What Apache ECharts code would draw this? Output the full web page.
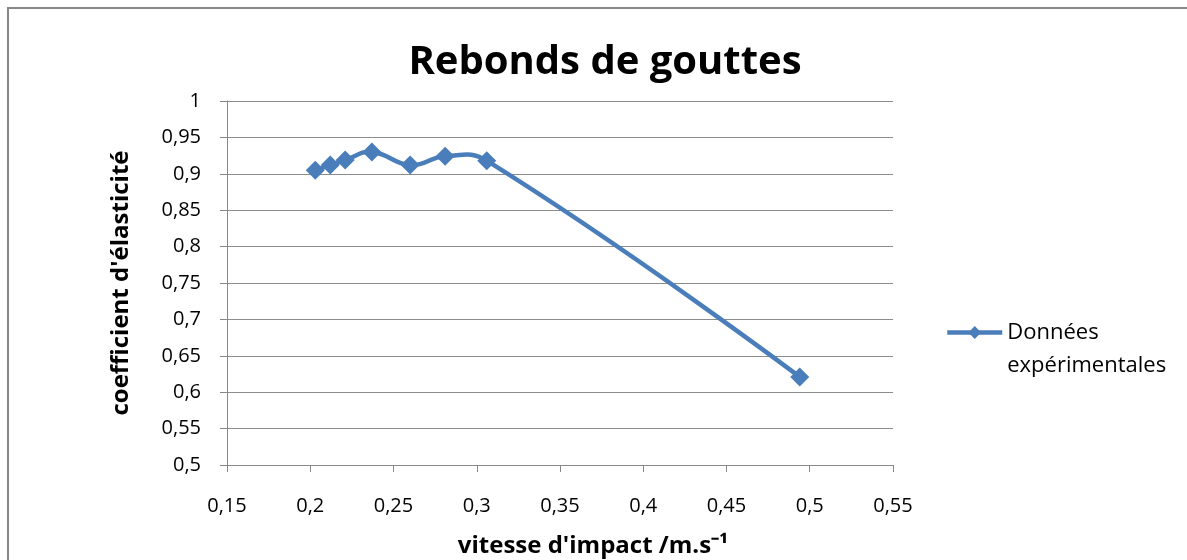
<!DOCTYPE html>
<html><head><meta charset="utf-8">
<script src="https://cdn.jsdelivr.net/npm/echarts@6/dist/echarts.min.js"></script>
<style>html,body{margin:0;padding:0;background:#fff}#c{width:1187px;height:560px}</style>
</head><body><div id="c"></div>
<script>
const vitesse = [0.203, 0.212, 0.221, 0.237, 0.260, 0.281, 0.306, 0.494];
const coefficient = [0.905, 0.912, 0.919, 0.930, 0.912, 0.924, 0.918, 0.621];
const xTicks = [0.15, 0.2, 0.25, 0.3, 0.35, 0.4, 0.45, 0.5, 0.55];
const yTicks = [0.5, 0.55, 0.6, 0.65, 0.7, 0.75, 0.8, 0.85, 0.9, 0.95, 1];
const seriesName = 'Données expérimentales';
const legendLabel = '\nDonnées\nexpérimentales';
const titleText = 'Rebonds de gouttes';
const xName = "vitesse d'impact /m.s⁻¹";
const yName = "coefficient d'élasticité";

const font = 'Open Sans';
const blue = '#4A7EBB';
const points = vitesse.map((x, i) => [x, coefficient[i]]);
const fmt = v => String(+v.toFixed(2)).replace('.', ',');

function smoothPath(pts, s) {
  const n = pts.length, cpOut = [], cpIn = [];
  for (let i = 0; i < n; i++) {
    const p = pts[i];
    if (i === 0 || i === n - 1) { cpOut[i] = p; cpIn[i] = p; continue; }
    const prev = pts[i - 1], next = pts[i + 1];
    const vx = next[0] - prev[0], vy = next[1] - prev[1];
    const d0 = Math.hypot(p[0] - prev[0], p[1] - prev[1]);
    const d1 = Math.hypot(next[0] - p[0], next[1] - p[1]);
    const r = d1 / (d0 + d1);
    cpIn[i] = [p[0] - vx * s * (1 - r), p[1] - vy * s * (1 - r)];
    cpOut[i] = [p[0] + vx * s * r, p[1] + vy * s * r];
  }
  let d = 'M' + pts[0][0] + ',' + pts[0][1];
  for (let i = 0; i < n - 1; i++) {
    d += ' C' + cpOut[i][0] + ',' + cpOut[i][1] + ' ' + cpIn[i + 1][0] + ',' + cpIn[i + 1][1] + ' ' + pts[i + 1][0] + ',' + pts[i + 1][1];
  }
  return d;
}

const chart = echarts.init(document.getElementById('c'));
chart.setOption({
  animation: false,
  backgroundColor: '#fff',
  graphic: [{type:'rect', shape:{x:8,y:8,width:1200,height:600}, style:{fill:'none', stroke:'#878787', lineWidth:2}, silent:true}],
  title: {text: titleText, left: 600, top: 38, textAlign: 'center',
    textStyle:{fontFamily: font, fontWeight:'bold', fontSize: 40, color:'#000'}},
  grid: {left: 227, right: 294, top: 101, bottom: 95, outerBoundsMode: 'none', containLabel: false},
  legend: {orient:'vertical', left: 945, top: 283, padding: 0, itemWidth: 55, itemHeight: 16,
    data: [seriesName],
    formatter: () => legendLabel,
    lineStyle: {color: blue, width: 4.5, opacity: 1},
    textStyle:{fontFamily: font, fontSize: 22, color:'#000', lineHeight: 33}},
  xAxis: {type:'value', min: xTicks[0], max: xTicks[xTicks.length-1], interval: 0.05,
    name: xName, nameLocation:'middle', nameGap: 69,
    nameTextStyle:{fontFamily: font, fontWeight:'bold', fontSize: 24, color:'#000', padding: [0, 0, 0, 66]},
    axisLine:{lineStyle:{color:'#888', width:1}},
    axisTick:{show:true, length:7, lineStyle:{color:'#888'}},
    axisLabel:{margin: 31, fontFamily: font, fontSize: 20, color:'#000', formatter: fmt},
    splitLine:{show:false}},
  yAxis: {type:'value', min: yTicks[0], max: yTicks[yTicks.length-1], interval: 0.05,
    name: yName, nameLocation:'middle', nameGap: 94, nameRotate: 90,
    nameTextStyle:{fontFamily: font, fontWeight:'bold', fontSize: 24, color:'#000'},
    axisLine:{show:true, lineStyle:{color:'#888', width:1}},
    axisTick:{show:true, inside:false, length:7, lineStyle:{color:'#888'}},
    axisLabel:{margin: 26, fontFamily: font, fontSize: 20, color:'#000', formatter: fmt},
    splitLine:{show:true, lineStyle:{color:'#8c8c8c', width:1}}},
  series: [{
    name: seriesName, type:'line', z: 3,
    data: points,
    symbol:'diamond', symbolSize: 19, showAllSymbol: true,
    itemStyle:{color: blue},
    lineStyle:{color: blue, width: 0, opacity: 0}
  }, {
    name: seriesName, type:'custom', z: 2, silent: true,
    data: points,
    encode: {x: 0, y: 1},
    renderItem: (params, api) => {
      if (params.dataIndex !== 0) return null;
      const pts = [];
      for (let i = 0; i < points.length; i++) pts.push(api.coord([api.value(0, i), api.value(1, i)]));
      return {type:'path', shape:{pathData: smoothPath(pts, 0.45)},
        style:{fill:'none', stroke: blue, lineWidth: 4.5, lineJoin:'round'}};
    }
  }]
});
</script></body></html>
